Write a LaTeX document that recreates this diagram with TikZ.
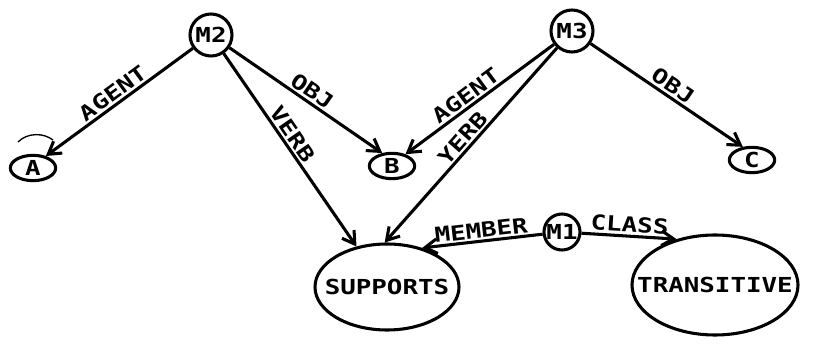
\documentclass[tikz,border=0pt]{standalone}
\usepackage{fontspec}
\newfontfamily\plotfont{DejaVu Sans Mono}[FakeStretch=1.25]
\usetikzlibrary{shapes.geometric,arrows.meta}
\begin{document}
\begin{tikzpicture}[x=0.75pt,y=-0.75pt,line width=2.3pt,
  font=\plotfont\bfseries\fontsize{15.5}{17}\selectfont,
  mnode/.style={draw,circle,inner sep=0pt,minimum size=31.5pt},
  leaf/.style={draw,ellipse,inner sep=0pt,minimum width=34pt,minimum height=19pt},
  bigoval/.style={draw,ellipse,inner sep=0pt},
  rel/.style={-{Straight Barb[length=9pt,width=11pt]}},
  lab/.style={sloped,above,inner sep=1.5pt}]
  \useasboundingbox (0,0) rectangle (822,345);
  \node[mnode] (m2) at (211,35) {M2};
  \node[mnode] (m3) at (572,31) {M3};
  \node[mnode,minimum size=27pt] (m1) at (562,232) {\makebox[0pt]{M1}};
  \node[leaf] (a) at (33,168) {A};
  \node[leaf] (b) at (392,166) {B};
  \node[leaf] (c) at (752,160) {C};
  \node[bigoval,minimum width=108pt,minimum height=64.5pt] (sup) at (387,287) {\makebox[0pt]{SUPPORTS}};
  \node[bigoval,minimum width=124.5pt,minimum height=75pt] (tr) at (715,285) {\makebox[0pt]{TRANSITIVE}};
  \draw[rel] (m2) -- node[lab] {AGENT} (a.43);
  \draw[rel] (m2) -- node[lab] {OBJ} (b.127);
  \draw[rel] (m2) -- node[lab,pos=0.45] {VERB} (sup.127);
  \draw[rel] (m3) -- node[lab,pos=0.55] {AGENT} (b.41);
  \draw[rel] (m3) -- node[lab] {YERB} (sup.93);
  \draw[rel] (m3) -- node[lab] {OBJ} (c.125);
  \draw[rel] (m1) -- node[lab] {MEMBER} (sup.48);
  \draw[rel] (m1) -- node[lab] {CLASS} (tr.130);
  \draw[line width=1pt] (18,142) .. controls (28,132) and (44,133) .. (53,140);
\end{tikzpicture}
\end{document}
